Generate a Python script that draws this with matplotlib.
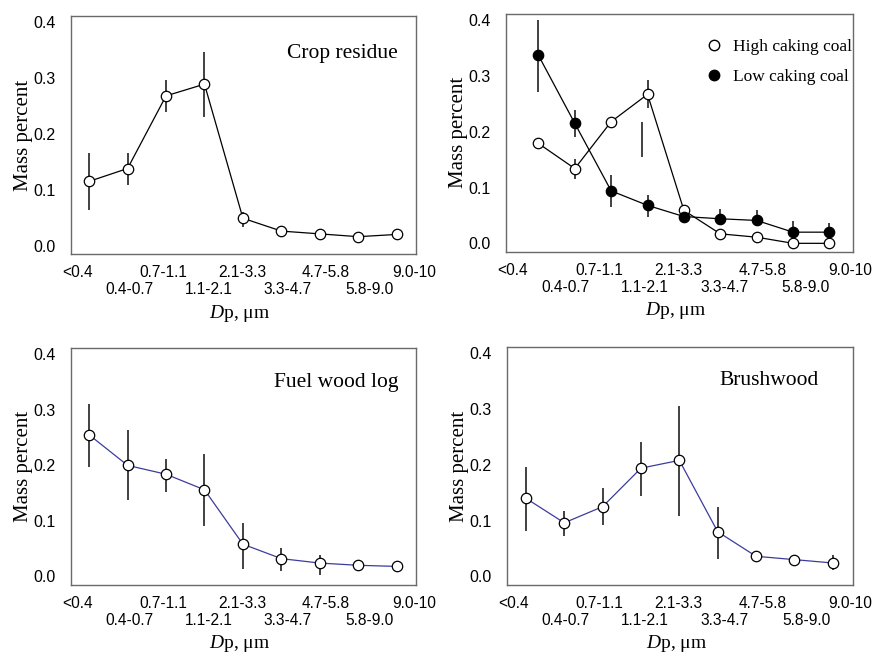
import matplotlib
matplotlib.use("Agg")
import matplotlib.pyplot as plt
from matplotlib.lines import Line2D

plt.rcParams["mathtext.fontset"] = "custom"
plt.rcParams["mathtext.it"] = "Liberation Serif:italic"
plt.rcParams["mathtext.rm"] = "Liberation Serif"

# size bins (x axis)
bins = ["<0.4", "0.4-0.7", "0.7-1.1", "1.1-2.1", "2.1-3.3",
        "3.3-4.7", "4.7-5.8", "5.8-9.0", "9.0-10"]

# crop residue
crop = [0.115, 0.138, 0.268, 0.289, 0.049, 0.026, 0.021, 0.016, 0.020]
crop_lo = [0.063, 0.108, 0.240, 0.231, 0.033, 0.026, 0.021, 0.016, 0.020]
crop_hi = [0.165, 0.165, 0.296, 0.347, 0.060, 0.026, 0.021, 0.016, 0.020]

# coal
high_coal = [0.179, 0.134, 0.218, 0.267, 0.059, 0.017, 0.011, 0.000, 0.000]
high_lo = [0.179, 0.116, 0.218, 0.242, 0.059, 0.017, 0.011, 0.000, 0.000]
high_hi = [0.179, 0.152, 0.218, 0.293, 0.059, 0.017, 0.011, 0.000, 0.000]
low_coal = [0.337, 0.215, 0.094, 0.068, 0.048, 0.044, 0.041, 0.020, 0.020]
low_lo = [0.272, 0.191, 0.065, 0.048, 0.048, 0.044, 0.041, 0.020, 0.020]
low_hi = [0.401, 0.239, 0.122, 0.086, 0.048, 0.062, 0.060, 0.040, 0.036]
# loose error bar that sits between 0.7-1.1 and 1.1-2.1
stray_x = [2.86]
stray_lo = [0.155]
stray_hi = [0.218]

# fuel wood log
fuel = [0.255, 0.200, 0.184, 0.156, 0.058, 0.032, 0.024, 0.020, 0.018]
fuel_lo = [0.197, 0.137, 0.152, 0.091, 0.014, 0.009, 0.003, 0.012, 0.008]
fuel_hi = [0.310, 0.263, 0.212, 0.221, 0.097, 0.051, 0.039, 0.024, 0.024]

# brushwood
brush = [0.140, 0.096, 0.125, 0.194, 0.208, 0.080, 0.036, 0.030, 0.024]
brush_lo = [0.081, 0.072, 0.092, 0.144, 0.108, 0.032, 0.036, 0.022, 0.011]
brush_hi = [0.197, 0.118, 0.158, 0.241, 0.306, 0.124, 0.036, 0.038, 0.038]

x = list(range(len(bins)))
label_frac = [0.020, 0.170, 0.269, 0.399, 0.496, 0.629, 0.740, 0.865, 0.994]

SANS = ["Liberation Sans", "DejaVu Sans"]
SERIF = ["Liberation Serif", "DejaVu Serif"]
BLUE = "#3c3c9c"

fig = plt.figure(figsize=(8.79, 6.57), dpi=100)


def setup(ax, xlim):
    ax.set_xlim(*xlim)
    ax.set_ylim(-0.015, 0.411)
    for s in ax.spines.values():
        s.set_color("#6a6a6a")
        s.set_linewidth(1.0)
    pos = [xlim[0] + f * (xlim[1] - xlim[0]) for f in label_frac]
    # two staggered rows: upper row on major ticks, lower row on minor ticks
    ax.set_xticks(pos[0::2])
    ax.set_xticklabels(bins[0::2], family=SANS, fontsize=11.2)
    ax.set_xticks(pos[1::2], minor=True)
    ax.set_xticklabels(bins[1::2], minor=True, family=SANS, fontsize=11.2)
    ax.set_yticks([0.0, 0.1, 0.2, 0.3, 0.4])
    ax.set_yticklabels(["0.0", "0.1", "0.2", "0.3", "0.4"], family=SANS, fontsize=11.5)
    ax.tick_params(axis="x", which="major", length=0, pad=8)
    ax.tick_params(axis="x", which="minor", length=0, pad=20.5)
    ax.tick_params(axis="y", length=0, pad=11)
    ax.set_ylabel("Mass percent", family=SERIF, fontsize=15)
    ax.yaxis.set_label_coords(-0.11, 0.5)
    ax.set_xlabel(r"$\mathit{D}$p, μm", family=SERIF, fontsize=14)
    ax.xaxis.set_label_coords(0.49, -0.205)


def series(ax, y, lo, hi, color, fill, z=3):
    ax.vlines(x, lo, hi, color="#333333", lw=1.3, zorder=z)
    ax.plot(x, y, "-o", color=color, lw=0.9, ms=7.5, mfc=fill,
            mec="black", mew=0.9, zorder=z + 1)


# crop residue
ax1 = fig.add_axes([0.0804, 0.6134, 0.3928, 0.3623])
setup(ax1, (-0.48, 8.5))
series(ax1, crop, crop_lo, crop_hi, "black", "white")
ax1.text(0.946, 0.843, "Crop residue", transform=ax1.transAxes, ha="right",
         va="center", family=SERIF, fontsize=15.5)

# coal
ax2 = fig.add_axes([0.5757, 0.6169, 0.3944, 0.3618])
setup(ax2, (-0.89, 8.64))
series(ax2, high_coal, high_lo, high_hi, "black", "white", z=3)
series(ax2, low_coal, low_lo, low_hi, "black", "black", z=5)
ax2.vlines(stray_x, stray_lo, stray_hi, color="#333333", lw=1.3)
handles = [Line2D([], [], ls="none", marker="o", ms=7.5, mfc="white", mec="black"),
           Line2D([], [], ls="none", marker="o", ms=7.5, mfc="black", mec="black")]
ax2.legend(handles, ["High caking coal", "Low caking coal"], loc="upper left",
           bbox_to_anchor=(0.55, 0.93), frameon=False, handlelength=1.0,
           handletextpad=0.6, labelspacing=0.75, borderpad=0,
           prop={"family": SERIF, "size": 12.5})

# fuel wood log
ax3 = fig.add_axes([0.0804, 0.1100, 0.3928, 0.3600])
setup(ax3, (-0.48, 8.5))
series(ax3, fuel, fuel_lo, fuel_hi, BLUE, "white")
ax3.text(0.949, 0.857, "Fuel wood log", transform=ax3.transAxes, ha="right",
         va="center", family=SERIF, fontsize=15.5)

# brushwood
ax4 = fig.add_axes([0.5765, 0.1100, 0.3936, 0.3616])
setup(ax4, (-0.50, 8.52))
series(ax4, brush, brush_lo, brush_hi, BLUE, "white")
ax4.text(0.903, 0.86, "Brushwood", transform=ax4.transAxes, ha="right",
         va="center", family=SERIF, fontsize=15.5)

fig.savefig("out.png", dpi=100)
